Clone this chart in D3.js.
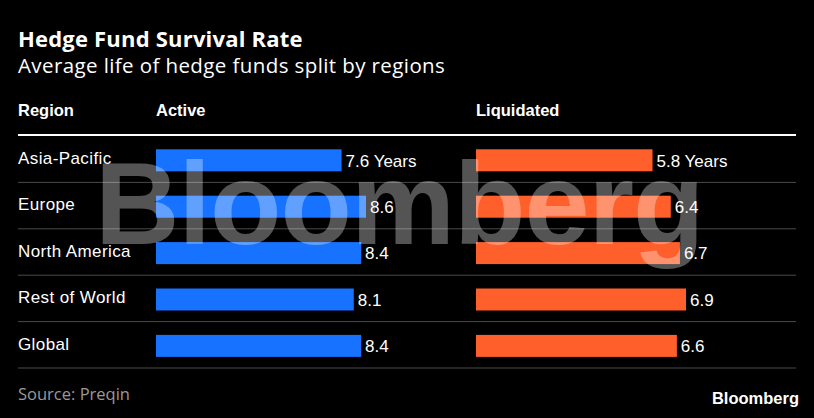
<!DOCTYPE html>
<html>
<head>
<meta charset="utf-8">
<script src="https://cdn.jsdelivr.net/npm/d3@7"></script>
<style>
  html, body { margin: 0; padding: 0; background: #000; }
  text { font-family: "Liberation Sans", Arial, sans-serif; }
</style>
</head>
<body>
<div id="chart"></div>
<script>
var regions = ["Asia-Pacific", "Europe", "North America", "Rest of World", "Global"];
var active = [7.6, 8.6, 8.4, 8.1, 8.4];
var liquidated = [5.8, 6.4, 6.7, 6.9, 6.6];
var columns = ["Active", "Liquidated"];

var width = 814, height = 418;

var svg = d3.select("#chart")
  .append("svg")
    .attr("width", width)
    .attr("height", height)
    .style("display", "block")
    .style("background", "#000");

// titles
svg.append("text")
    .attr("x", 18).attr("y", 47)
    .attr("fill", "#fff")
    .style("font-family", "'Open Sans', sans-serif")
    .style("font-size", "22px")
    .style("font-weight", "bold")
    .style("letter-spacing", "0.2px")
    .text("Hedge Fund Survival Rate");

svg.append("text")
    .attr("x", 18).attr("y", 73)
    .attr("fill", "#fff")
    .style("font-family", "'Open Sans', sans-serif")
    .style("font-size", "20.5px")
    .style("letter-spacing", "0.4px")
    .text("Average life of hedge funds split by regions");

// header row
var colX = {"Active": 156, "Liquidated": 476};
svg.append("text")
    .attr("x", 18).attr("y", 116)
    .attr("fill", "#fff")
    .style("font-size", "16.5px")
    .style("font-weight", "bold")
    .text("Region");

svg.selectAll(".colhead")
  .data(columns)
  .enter().append("text")
    .attr("class", "colhead")
    .attr("x", d => colX[d]).attr("y", 116)
    .attr("fill", "#fff")
    .style("font-size", "16.5px")
    .style("font-weight", "bold")
    .text(d => d);

svg.append("line")
    .attr("x1", 18).attr("x2", 796)
    .attr("y1", 135).attr("y2", 135)
    .attr("stroke", "#fff")
    .attr("stroke-width", 2);

var y = d3.scaleBand()
    .domain(regions)
    .range([136, 368]);

var xActive = d3.scaleLinear()
    .domain([0, d3.max(active)])
    .range([colX["Active"], colX["Active"] + 210]);

var xLiq = d3.scaleLinear()
    .domain([0, d3.max(liquidated)])
    .range([colX["Liquidated"], colX["Liquidated"] + 210]);

// row separators
svg.selectAll(".sep")
  .data(regions)
  .enter().append("line")
    .attr("x1", 18).attr("x2", 796)
    .attr("y1", d => y(d) + y.bandwidth())
    .attr("y2", d => y(d) + y.bandwidth())
    .attr("stroke", "#4a4a4a")
    .attr("stroke-width", 1);

// region labels
svg.selectAll(".region")
  .data(regions)
  .enter().append("text")
    .attr("x", 18)
    .attr("y", d => y(d) + 28)
    .attr("fill", "#fff")
    .style("font-size", "17px")
    .style("letter-spacing", "0.4px")
    .text(d => d);

function drawBars(vals, x, color) {
  var g = svg.append("g");
  g.selectAll("rect")
    .data(vals)
    .enter().append("rect")
      .attr("x", x(0))
      .attr("y", (d, i) => y(regions[i]) + 13.3)
      .attr("width", d => x(d) - x(0))
      .attr("height", 22)
      .attr("fill", color);
  g.selectAll("text")
    .data(vals)
    .enter().append("text")
      .attr("x", d => x(d) + 4)
      .attr("y", (d, i) => y(regions[i]) + 30.5)
      .attr("fill", "#fff")
      .style("font-size", "17px")
      .text((d, i) => d3.format(".1f")(d) + (i == 0 ? " Years" : ""));
}

drawBars(active, xActive, "#1672ff");
drawBars(liquidated, xLiq, "#ff5f2b");

// watermark
svg.append("text")
    .attr("x", 95).attr("y", 244)
    .attr("fill", "#fff")
    .attr("fill-opacity", 0.33)
    .style("font-size", "117px")
    .style("font-weight", "bold")
    .style("letter-spacing", "-1px")
    .text("Bloomberg");

// footer
svg.append("text")
    .attr("x", 18).attr("y", 400)
    .attr("fill", "#9a9a9a")
    .style("font-family", "'Open Sans', sans-serif")
    .style("font-size", "16.5px")
    .text("Source: Preqin");

svg.append("text")
    .attr("x", 799).attr("y", 404)
    .attr("text-anchor", "end")
    .attr("fill", "#fff")
    .style("font-size", "16.5px")
    .style("font-weight", "bold")
    .text("Bloomberg");
</script>
</body>
</html>
